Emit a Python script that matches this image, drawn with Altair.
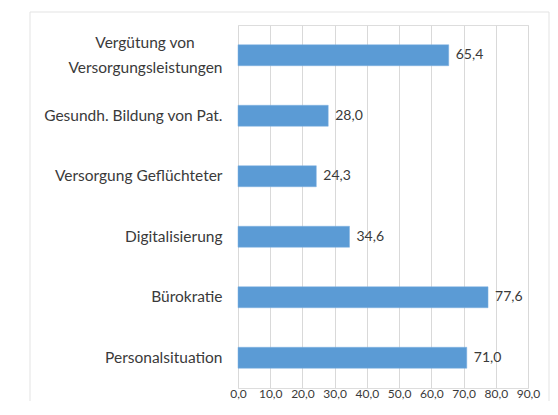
import altair as alt
import pandas as pd

categories = [
    "Vergütung von" + "\u00a0" * 7 + "\u2060|Versorgungsleistungen",
    "Gesundh. Bildung von Pat.",
    "Versorgung Geflüchteter",
    "Digitalisierung",
    "Bürokratie",
    "Personalsituation",
]
values = [65.4, 28.0, 24.3, 34.6, 77.6, 71.0]
x_ticks = [0, 10, 20, 30, 40, 50, 60, 70, 80, 90]

df = pd.DataFrame({"cat": categories, "val": values})
df["lbl"] = [f"{v:.1f}".replace(".", ",") for v in values]

FONT = "Lato"
TXT = "#3a3a3a"

y_enc = alt.Y(
    "cat:N",
    sort=categories,
    scale=alt.Scale(domain=categories, paddingInner=0.653, paddingOuter=0.3265),
    axis=alt.Axis(
        title=None, domain=False, ticks=False, grid=False,
        labelExpr="split(datum.label, '|')",
        labelFont=FONT, labelFontSize=15.5, labelColor=TXT,
        labelPadding=16, labelLineHeight=25, labelLimit=300,
        labelOffset={"condition": {"test": "indexof(datum.value, '|') >= 0", "value": -12.5}, "value": 0},
    ),
)
x_enc = alt.X(
    "val:Q",
    scale=alt.Scale(domain=[0, 90], nice=False),
    axis=alt.Axis(
        title=None, values=x_ticks, domain=False, ticks=False,
        grid=True, gridColor="#d9d9d9", labelOverlap=False, labelFlush=False,
        labelExpr="replace(format(datum.value, '.1f'), '.', ',')",
        labelFont=FONT, labelFontSize=12, labelColor=TXT, labelPadding=0,
    ),
)

frame = alt.Chart(alt.Data(values=[{}])).mark_rect(
    fill=None, stroke="#e3e3e3", strokeWidth=1
).encode(
    x=alt.value(-208), x2=alt.value(311), y=alt.value(-13), y2=alt.value(430)
)

bars = alt.Chart(df).mark_bar(color="#5b9bd5", stroke="#7fb1e0", strokeWidth=0.5).encode(
    x=x_enc, y=y_enc
)
labels = alt.Chart(df).mark_text(
    align="left", baseline="middle", dx=7, font=FONT, fontSize=14, color=TXT
).encode(x=x_enc, y=y_enc, text="lbl:N")

chart = alt.layer(frame, bars, labels).properties(
    width=290, height=363,
    autosize=alt.AutoSizeParams(type="none"),
    padding={"left": 230, "top": 17, "right": 22, "bottom": 13},
).configure_view(stroke="#d9d9d9").configure(background="white")

chart.save("out.html", embed_options={"renderer": "svg", "actions": False})
